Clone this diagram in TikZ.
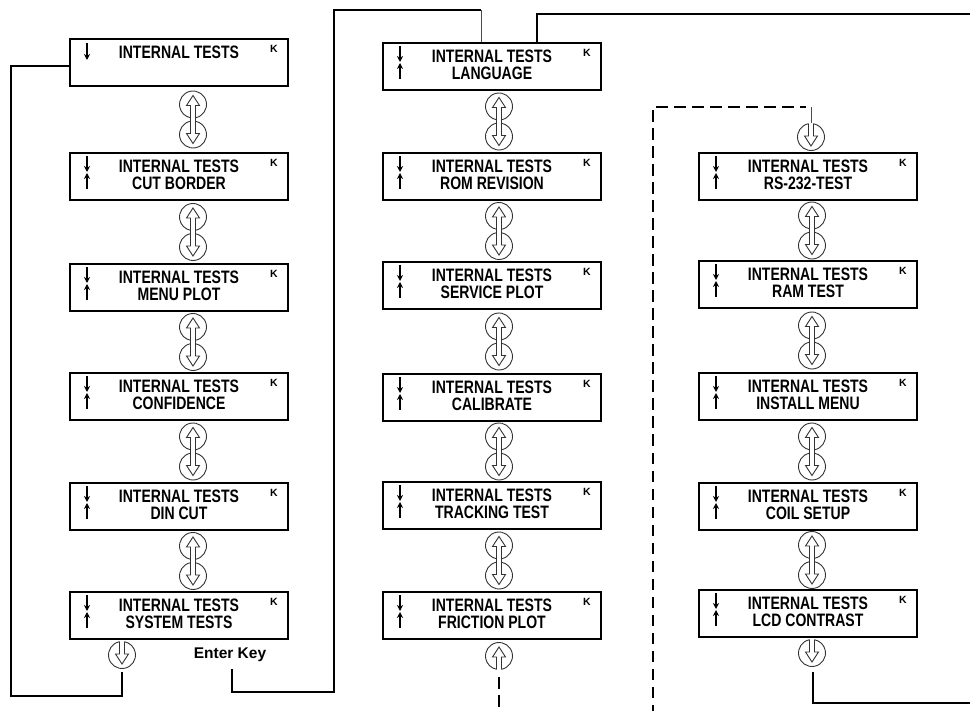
\documentclass[tikz,border=0pt]{standalone}
\usepackage{fontspec}
\usetikzlibrary{calc,arrows.meta}
\newfontfamily\boxfont[FakeStretch=0.78]{Liberation Sans}
\newfontfamily\plainfont{Liberation Sans}
\tikzset{
  box/.style={draw, line width=2pt, minimum width=218pt, minimum height=47pt, inner sep=0pt},
  ttl/.style={inner sep=0pt, font=\boxfont\bfseries\fontsize{18}{17}\selectfont},
  kk/.style={inner sep=0pt, font=\plainfont\bfseries\fontsize{10.5}{10}\selectfont},
  ek/.style={inner sep=0pt, font=\plainfont\bfseries\fontsize{15.5}{16}\selectfont},
  sarr/.style={line width=1.6pt, -{Stealth[length=6pt,width=6pt]}},
  conn/.style={line width=2pt},
  thinconn/.style={line width=1pt, draw=black!70},
  dconn/.style={line width=2.8pt, dash pattern=on 11.5pt off 6.5pt},
  circ/.style={line width=0.9pt, draw=black!80},
}
\newcommand\ibox[4]{%
  \node[box] (#1) at (#2,#3+23.5) {};
  \node[ttl] (#1-l1) at ($(#1.north)+(0,14)$) {INTERNAL TESTS};
  \node[ttl] (#1-l2) at ($(#1.north)+(0,31)$) {#4};
  \node[kk] (#1-k) at ($(#1.north east)+(-15,11)$) {K};
  \draw[sarr] ($(#1.north west)+(18,4)$) -- ($(#1.north west)+(18,20)$);
  \draw[sarr] ($(#1.north west)+(18,37)$) -- ($(#1.north west)+(18,21)$);
}
\newcommand\cpair[3]{%
  \coordinate (#1u) at (#2,#3-15);
  \coordinate (#1d) at (#2,#3+15);
  \draw[circ] (#1u) ++(-79.33:13.5pt) arc[start angle=-79.33, end angle=259.33, radius=13.5pt];
  \draw[circ] (#1d) ++(100.67:13.5pt) arc[start angle=100.67, end angle=439.33, radius=13.5pt];
  \draw[circ] ($(#1u)+(-2.5,1)$) -- ($(#1u)+(-6.5,1)$) -- ($(#1u)+(0,-9)$) -- ($(#1u)+(6.5,1)$) -- ($(#1u)+(2.5,1)$)
     -- ($(#1d)+(2.5,-1)$) -- ($(#1d)+(6.5,-1)$) -- ($(#1d)+(0,9)$) -- ($(#1d)+(-6.5,-1)$) -- ($(#1d)+(-2.5,-1)$) -- cycle;
}
\newcommand\cupone[3]{%
  \coordinate (#1) at (#2,#3);
  \draw[circ] (#1) ++(-79.33:13.5pt) arc[start angle=-79.33, end angle=259.33, radius=13.5pt];
  \draw[circ] ($(#1)+(-2.5,13.27)$) -- ($(#1)+(-2.5,1)$) -- ($(#1)+(-6.5,1)$) -- ($(#1)+(0,-9)$) -- ($(#1)+(6.5,1)$) -- ($(#1)+(2.5,1)$) -- ($(#1)+(2.5,13.27)$);
}
\newcommand\cdownone[3]{%
  \coordinate (#1) at (#2,#3);
  \draw[circ] (#1) ++(100.67:13.5pt) arc[start angle=100.67, end angle=439.33, radius=13.5pt];
  \draw[circ] ($(#1)+(-2.5,-13.27)$) -- ($(#1)+(-2.5,-1)$) -- ($(#1)+(-6.5,-1)$) -- ($(#1)+(0,9)$) -- ($(#1)+(6.5,-1)$) -- ($(#1)+(2.5,-1)$) -- ($(#1)+(2.5,-13.27)$);
}
\begin{document}
\begin{tikzpicture}[x=1pt,y=-1pt]
\clip (0,0) rectangle (970,711);
\fill[white] (0,0) rectangle (970,711);

% column 1
\node[box] (a1) at (179,39+23.5) {};
\node[ttl] (a1-l1) at ($(a1.north)+(0,14)$) {INTERNAL TESTS};
\node[kk] (a1-k) at ($(a1.north east)+(-15,11)$) {K};
\draw[sarr] ($(a1.north west)+(18,5)$) -- ($(a1.north west)+(18,22)$);
\ibox{a2}{179}{153}{CUT BORDER}
\ibox{a3}{179}{264}{MENU PLOT}
\ibox{a4}{179}{373}{CONFIDENCE}
\ibox{a5}{179}{483}{DIN CUT}
\ibox{a6}{179}{592}{SYSTEM TESTS}
\cpair{ca1}{193}{119.5}
\cpair{ca2}{193}{232}
\cpair{ca3}{193}{342}
\cpair{ca4}{193}{451.5}
\cpair{ca5}{193}{561}
\cdownone{cab}{122}{655}

% column 2
\ibox{b1}{492}{43}{LANGUAGE}
\ibox{b2}{492}{153}{ROM REVISION}
\ibox{b3}{492}{262}{SERVICE PLOT}
\ibox{b4}{492}{374}{CALIBRATE}
\ibox{b5}{492}{482}{TRACKING TEST}
\ibox{b6}{492}{592}{FRICTION PLOT}
\cpair{cb1}{499}{121.5}
\cpair{cb2}{499}{231}
\cpair{cb3}{499}{341.5}
\cpair{cb4}{499}{451.5}
\cpair{cb5}{499}{560.5}
\cupone{cbb}{499}{656}

% column 3
\ibox{c1}{808}{153}{RS-232-TEST}
\ibox{c2}{808}{261}{RAM TEST}
\ibox{c3}{808}{373}{INSTALL MENU}
\ibox{c4}{808}{483}{COIL SETUP}
\ibox{c5}{808}{590}{LCD CONTRAST}
\cdownone{cct}{811}{137}
\cpair{cc1}{812}{230.5}
\cpair{cc2}{812}{340.5}
\cpair{cc3}{812}{451.5}
\cpair{cc4}{812}{560}
\cdownone{ccb}{812}{653}

% Enter Key label
\node[ek] (enter) at (230,655) {Enter Key};

% connectors
\coordinate (j1) at (11,696);
\draw[conn] ($(a1.west)+(0,3.5)$) -| (j1) -| ($(cab)+(0,17)$);

\coordinate (ekb) at (232,669);
\coordinate (j2) at (334,692);
\coordinate (j3) at (481,10);
\draw[conn] (ekb) |- (j2) |- (j3);
\draw[thinconn] (j3) -- (j3 |- b1.north);

\coordinate (j4) at (975,14);
\draw[conn] ($(b1.north)+(45,0)$) |- (j4);

\coordinate (j5) at (975,703);
\draw[conn] ($(ccb)+(1,19)$) |- (j5);

\coordinate (d1) at (499,716);
\draw[dconn] ($(cbb)+(0,21)$) -- (d1);

\coordinate (d2) at (653,716);
\coordinate (d3) at (653,107);
\coordinate (d4) at (806,107);
\draw[dconn] (d2) -- (d3) -- (d4);
\draw[thinconn] (cct |- d4) -- ($(cct)+(0,-13.5)$);
\end{tikzpicture}
\end{document}
